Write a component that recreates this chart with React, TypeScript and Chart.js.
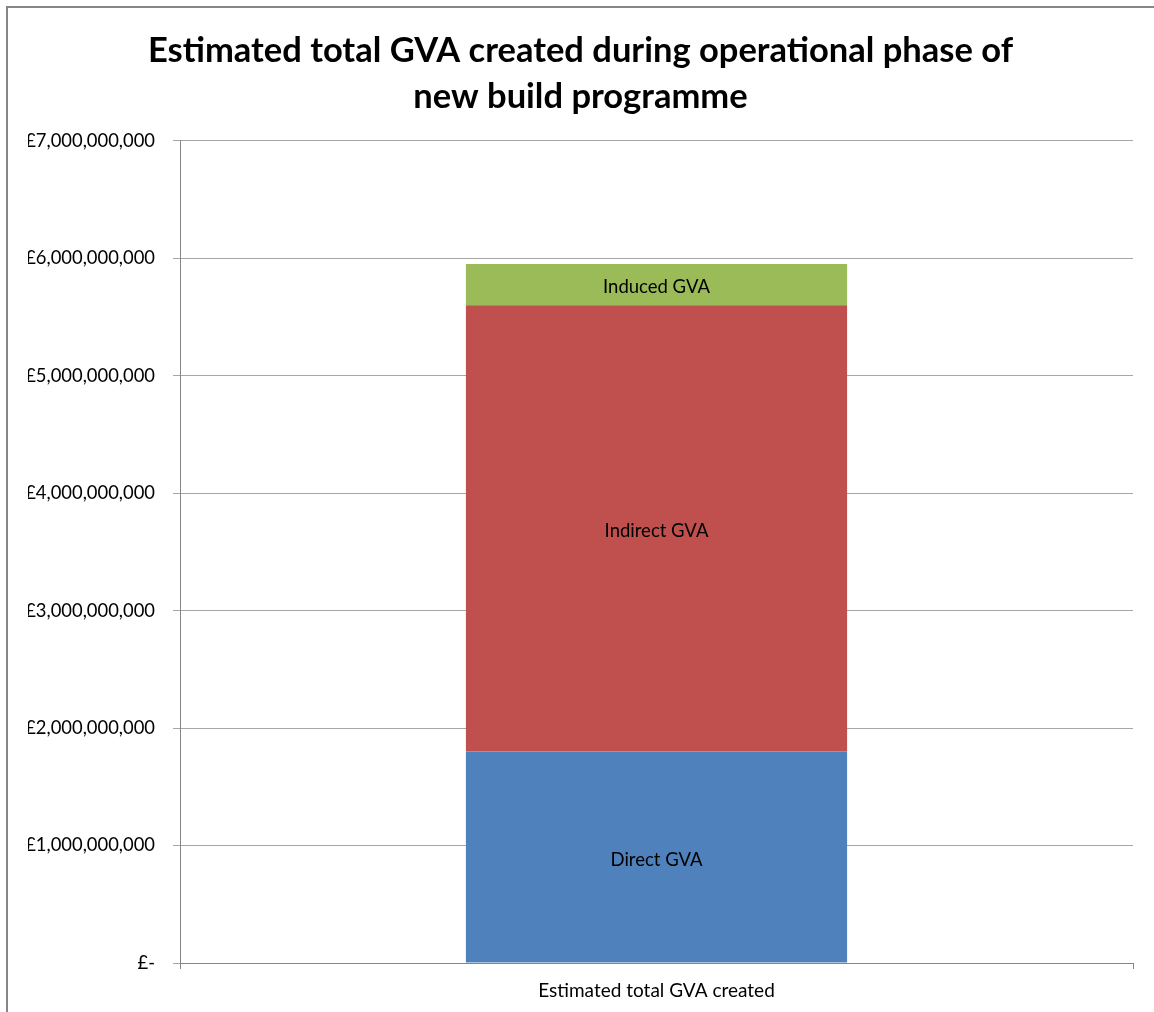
import React, { useEffect, useRef } from "react";
import { Chart, registerables } from "chart.js";

Chart.register(...registerables);

const categories = ["Estimated total GVA created"];
const seriesNames = ["Direct GVA", "Indirect GVA", "Induced GVA"];
const directValues = [1800000000];
const indirectValues = [3800000000];
const inducedValues = [350000000];
const seriesColors = ["#4F81BD", "#C0504D", "#9BBB59"];
const titleLines = ["Estimated total GVA created during operational phase of", "new build programme"];
const yMax = 7000000000;
const yStep = 1000000000;

const FONT = "Lato, 'Open Sans', sans-serif";

function formatPound(v: number): string {
  if (v === 0) return "£-";
  return "£" + v.toLocaleString("en-GB");
}

const segmentLabels = {
  id: "segmentLabels",
  afterDatasetsDraw(chart: any) {
    const ctx = chart.ctx;
    ctx.save();
    ctx.font = `18.5px ${FONT}`;
    ctx.fillStyle = "#000";
    ctx.textAlign = "center";
    ctx.textBaseline = "middle";
    chart.data.datasets.forEach((ds: any, i: number) => {
      const meta = chart.getDatasetMeta(i);
      meta.data.forEach((bar: any) => {
        const y = (bar.y + bar.base) / 2 + 2.5;
        ctx.fillText(ds.label, bar.x, y);
      });
    });
    ctx.restore();
  },
};

export default function App() {
  const ref = useRef<HTMLCanvasElement>(null);
  useEffect(() => {
    if (!ref.current) return;
    const chart = new Chart(ref.current, {
      type: "bar",
      data: {
        labels: categories,
        datasets: [
          { label: seriesNames[0], data: directValues, backgroundColor: seriesColors[0] },
          { label: seriesNames[1], data: indirectValues, backgroundColor: seriesColors[1] },
          { label: seriesNames[2], data: inducedValues, backgroundColor: seriesColors[2] },
        ],
      },
      options: {
        animation: false,
        responsive: false,
        maintainAspectRatio: false,
        layout: { padding: { left: 28, right: 21, top: 0, bottom: 0 } },
        datasets: { bar: { barPercentage: 0.4, categoryPercentage: 1 } } as any,
        plugins: {
          legend: { display: false },
          tooltip: { enabled: false },
          title: {
            display: true,
            text: titleLines,
            color: "#000",
            font: { family: FONT, size: 34.5, weight: "bold", lineHeight: 1.33 },
            padding: { top: 28, bottom: 21 },
          },
        },
        scales: {
          x: {
            stacked: true,
            grid: {
              display: true,
              offset: true,
              drawOnChartArea: false,
              drawTicks: true,
              tickLength: 6,
              color: "#868686",
            },
            border: { display: true, color: "#868686" },
            ticks: { color: "#000", font: { family: FONT, size: 19 }, padding: 10 },
            afterFit(scale: any) {
              scale.height = 49;
            },
          },
          y: {
            stacked: true,
            min: 0,
            max: yMax,
            grid: { color: "#a6a6a6", tickLength: 7, drawTicks: true },
            border: { display: true, color: "#868686" },
            ticks: {
              stepSize: yStep,
              color: "#000",
              font: { family: FONT, size: 18.4 },
              padding: 18,
              callback: (v: any) => formatPound(Number(v)),
            },
            afterFit(scale: any) {
              scale.width = 152;
            },
          },
        },
      },
      plugins: [segmentLabels],
    });
    return () => chart.destroy();
  }, []);
  return (
    <div style={{ position: "absolute", left: 0, top: 0, width: 1154, height: 1012, overflow: "hidden", background: "#fff" }}>
      <div
        style={{
          position: "absolute",
          left: 6,
          top: 6,
          width: 1200,
          height: 1100,
          borderLeft: "2px solid #868686",
          borderTop: "2px solid #868686",
        }}
      />
      <canvas ref={ref} width={1154} height={1012} style={{ position: "absolute", left: 0, top: 0 }} />
    </div>
  );
}
